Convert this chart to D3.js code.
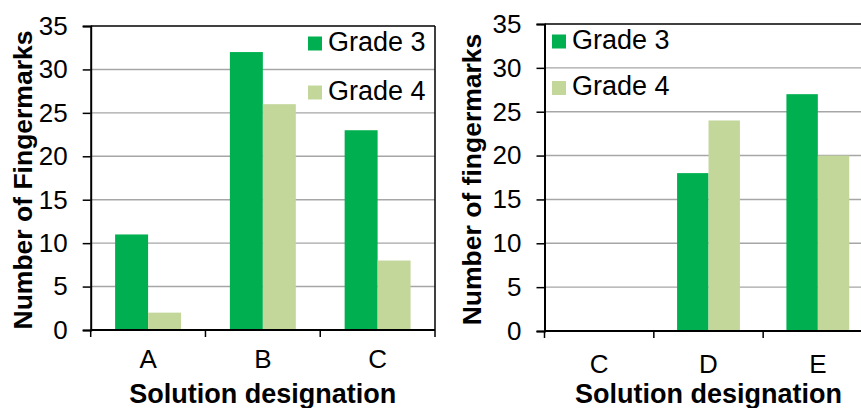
<!DOCTYPE html>
<html>
<head>
<meta charset="utf-8">
<script src="https://cdn.jsdelivr.net/npm/d3@7"></script>
<style>
  html, body { margin: 0; padding: 0; background: #fff; }
  svg { display: block; }
  text { font-family: "Liberation Sans", Arial, Helvetica, sans-serif; fill: #000; }
</style>
</head>
<body>
<svg id="chart" width="861" height="408"></svg>
<script>
// Fingermark counts per solution, grade 3 vs grade 4
const seriesNames = ["Grade 3", "Grade 4"];
const seriesColors = ["#00b050", "#c4d79b"];
const yTickValues = [0, 5, 10, 15, 20, 25, 30, 35];

const leftCategories = ["A", "B", "C"];
const leftGrade3 = [11, 32, 23];
const leftGrade4 = [2, 26, 8];

const rightCategories = ["C", "D", "E"];
const rightGrade3 = [0, 18, 27];
const rightGrade4 = [0, 24, 20];

const svg = d3.select("#chart");

function drawPanel(cfg) {
  const g = svg.append("g");
  const { left, right, top, bottom } = cfg;

  const y = d3.scaleLinear().domain([0, 35]).range([bottom, top]);
  const x0 = d3.scaleBand().domain(cfg.categories).range([left, right]).padding(0);
  const x1 = d3.scaleBand().domain(seriesNames).range([0, x0.bandwidth()])
    .paddingInner(0).paddingOuter(0.74);

  // horizontal gridlines
  g.append("g").selectAll("line")
    .data(yTickValues.filter(v => v > 0 && v < 35))
    .join("line")
    .attr("x1", left).attr("x2", Math.min(right, 861))
    .attr("y1", d => y(d)).attr("y2", d => y(d))
    .attr("stroke", "#a6a6a6").attr("stroke-width", 1.4);

  // bars
  const rows = cfg.categories.map((c, i) => ({ cat: c, vals: [cfg.s3[i], cfg.s4[i]] }));
  g.append("g").selectAll("g")
    .data(rows)
    .join("g")
    .attr("transform", d => `translate(${x0(d.cat)},0)`)
    .selectAll("rect")
    .data(d => d.vals.map((v, k) => ({ v, k })))
    .join("rect")
    .attr("x", d => x1(seriesNames[d.k]))
    .attr("width", x1.bandwidth())
    .attr("y", d => y(d.v))
    .attr("height", d => y(0) - y(d.v))
    .attr("fill", d => seriesColors[d.k]);

  // frame: top and right borders
  g.append("line").attr("x1", left).attr("x2", Math.min(right, 861))
    .attr("y1", top).attr("y2", top).attr("stroke", "#000").attr("stroke-width", 1.5);
  if (right <= 861) {
    g.append("line").attr("x1", right).attr("x2", right)
      .attr("y1", top).attr("y2", bottom).attr("stroke", "#000").attr("stroke-width", 1.5);
  }

  // y axis
  const yAxis = d3.axisLeft(y).tickValues(yTickValues).tickSize(8).tickPadding(15);
  const ya = g.append("g").attr("transform", `translate(${left},0)`).call(yAxis);
  ya.attr("font-size", null).attr("font-family", null);
  ya.select(".domain").attr("stroke", "#000").attr("stroke-width", 2);
  ya.selectAll(".tick line").attr("stroke", "#000").attr("stroke-width", 1.5);
  ya.selectAll(".tick text").style("font-size", "26px")
    .style("font-family", "'Liberation Sans', Arial, sans-serif");

  // x axis baseline with category-boundary ticks
  g.append("line").attr("x1", left).attr("x2", Math.min(right, 861))
    .attr("y1", bottom).attr("y2", bottom).attr("stroke", "#000").attr("stroke-width", 2);
  const bounds = cfg.categories.map(c => x0(c)).concat([x0(cfg.categories[cfg.categories.length - 1]) + x0.bandwidth()]);
  g.append("g").selectAll("line")
    .data(bounds.filter(b => b <= 861))
    .join("line")
    .attr("x1", d => d).attr("x2", d => d)
    .attr("y1", bottom).attr("y2", bottom + 7)
    .attr("stroke", "#000").attr("stroke-width", 1.5);

  // category labels
  g.append("g").selectAll("text")
    .data(cfg.categories)
    .join("text")
    .attr("x", d => x0(d) + x0.bandwidth() / 2)
    .attr("y", bottom + cfg.catOffset)
    .attr("text-anchor", "middle")
    .style("font-size", "26px")
    .text(d => d);

  // axis titles
  g.append("text")
    .attr("x", (left + right) / 2).attr("y", 403)
    .attr("text-anchor", "middle").style("font-size", "27px").attr("font-weight", "bold")
    .text("Solution designation");

  g.append("text")
    .attr("transform", `translate(${cfg.yTitleX},${(top + bottom) / 2 + 2}) rotate(-90)`)
    .attr("text-anchor", "middle").style("font-size", "26.5px").attr("font-weight", "bold")
    .text(cfg.yTitle);

  // legend
  const lg = g.append("g").selectAll("g")
    .data(seriesNames)
    .join("g")
    .attr("transform", (d, i) => `translate(${cfg.legendX},${cfg.legendY + i * cfg.legendGap})`);
  lg.append("rect").attr("x", 0).attr("y", -14).attr("width", 14).attr("height", 14)
    .attr("fill", (d, i) => seriesColors[i]);
  lg.append("text").attr("x", 20).attr("y", 0).style("font-size", "27px").text(d => d);
}

drawPanel({
  left: 90.7, right: 435, top: 26, bottom: 330,
  categories: leftCategories, s3: leftGrade3, s4: leftGrade4,
  catOffset: 38, yTitleX: 32, yTitle: "Number of Fingermarks",
  legendX: 308, legendY: 50.5, legendGap: 49
});

drawPanel({
  left: 544.5, right: 872.5, top: 24, bottom: 331,
  categories: rightCategories, s3: rightGrade3, s4: rightGrade4,
  catOffset: 42, yTitleX: 481, yTitle: "Number of fingermarks",
  legendX: 552, legendY: 48.5, legendGap: 46.5
});
</script>
</body>
</html>
